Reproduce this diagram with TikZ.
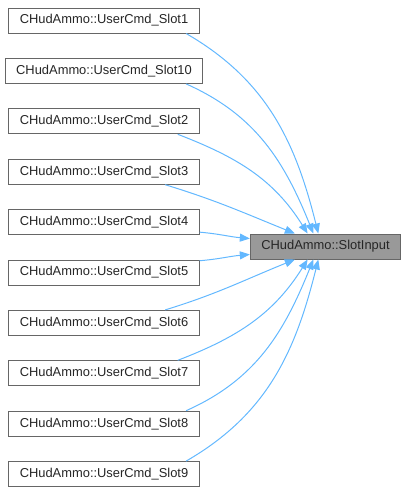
\documentclass[tikz,border=0pt]{standalone}
\usepackage{fontspec}
\setmainfont{Liberation Sans}
\usetikzlibrary{arrows.meta}
\definecolor{edgeblue}{HTML}{63B8FF}
\definecolor{grey40}{HTML}{666666}
\definecolor{grey60}{HTML}{999999}
\begin{document}
\begin{tikzpicture}[x=1pt, y=1pt, >={Triangle[length=10pt, width=8pt]},
  font=\fontsize{12.9}{15}\selectfont,
  caller/.style={draw=grey40, fill=white, line width=1pt, minimum height=25pt,
    inner xsep=11pt, inner ysep=0pt, text=black!85},
  callee/.style={caller, fill=grey60},
  edge/.style={->, draw=edgeblue, line width=1pt}]
  \useasboundingbox (0,0) rectangle (406,-493);
  \node[callee] (si) at (325.5,-246.5) {CHudAmmo::SlotInput};
  % callers, top to bottom
  \foreach \name/\k in {1/0, 10/1, 2/2, 3/3, 4/4, 5/5, 6/6, 7/7, 8/8, 9/9}
    \node[caller] (s\name) at (104,{-20.5-50.4*\k}) {CHudAmmo::UserCmd\_Slot\name};
  % edges: start anchor / out / end anchor / in
  \foreach \name/\a/\o/\b/\i in {1/-9/-30/119/104, 10/-9/-24/133/112,
      2/-10/-21/144/122, 3/-12/-17/157/158, 4/-6/-5/174/175,
      5/7/5/186/185, 6/12/17/203/202, 7/10/21/216/238,
      8/9/24/227/248, 9/9/30/241/256}
    \draw[edge] (s\name.\a) to[out=\o, in=\i] (si.\b);
\end{tikzpicture}
\end{document}
